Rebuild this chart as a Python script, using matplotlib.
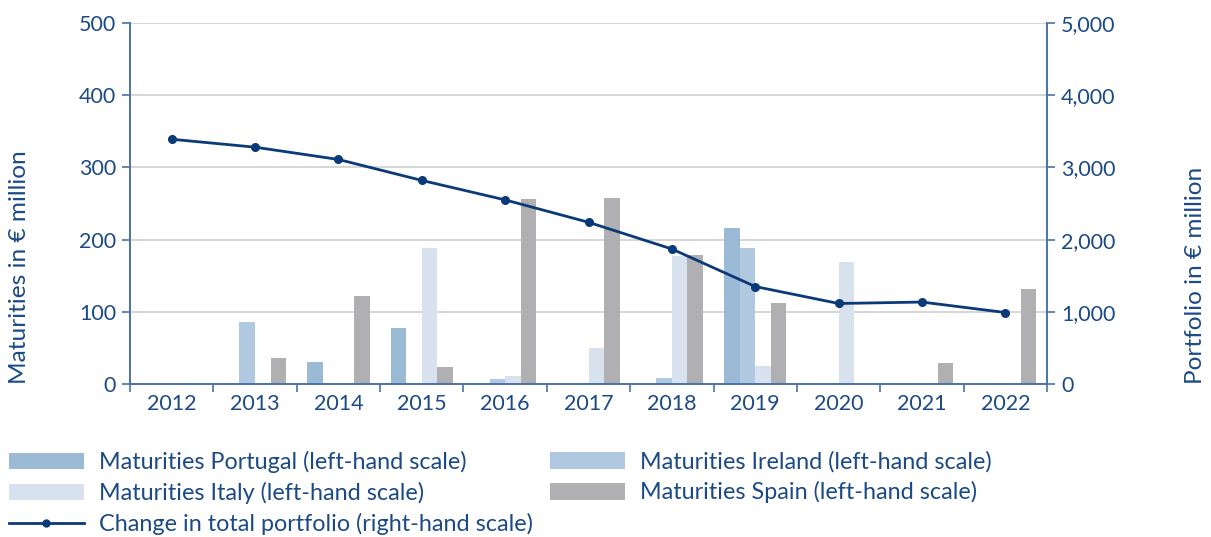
import matplotlib
matplotlib.use("Agg")
import matplotlib.pyplot as plt
import numpy as np
from matplotlib.patches import Patch
from matplotlib.lines import Line2D

years = ["2012", "2013", "2014", "2015", "2016", "2017", "2018", "2019", "2020", "2021", "2022"]
portugal = [0, 0, 30, 77, 0, 0, 0, 216, 0, 0, 0]
ireland = [0, 86, 1.5, 0, 7, 0, 8, 188, 0, 0, 0]
italy = [0, 0, 0, 188, 11, 50, 177, 25, 169, 0, 0]
spain = [0, 36, 122, 23, 256, 258, 179, 112, 0, 29, 131]
portfolio = [3390, 3280, 3110, 2820, 2550, 2240, 1870, 1350, 1115, 1135, 990]

labels = ["Maturities Portugal (left-hand scale)", "Maturities Ireland (left-hand scale)",
          "Maturities Italy (left-hand scale)", "Maturities Spain (left-hand scale)",
          "Change in total portfolio (right-hand scale)"]

c_por = "#9bbad6"
c_ire = "#b0c8e0"
c_ita = "#d7e2ee"
c_spa = "#b0b0b2"
c_line = "#0b3a78"
c_text = "#1c4a86"
c_spine = "#4a72a8"

plt.rcParams['font.family'] = ['Lato', 'DejaVu Sans']
fs_tick = 15.5
fs_leg = 16.8
fs_lab = 17.6

fig = plt.figure(figsize=(12.11, 5.37), dpi=100)
ax = fig.add_axes([130/1211, 1-384/537, (1047-130)/1211, (384-23)/537])
ax2 = ax.twinx()

x = np.arange(len(years))
w = 0.187
for i, (vals, col) in enumerate([(portugal, c_por), (ireland, c_ire), (italy, c_ita), (spain, c_spa)]):
    ax.bar(x + (i - 1.5) * w, vals, width=w, color=col, zorder=2, linewidth=0)

ax2.plot(x, portfolio, color=c_line, lw=2.0, marker='o', markersize=5.5, zorder=5)

ax.set_xlim(-0.5, len(years) - 0.5)
ax.set_ylim(0, 500)
ax2.set_ylim(0, 5000)
ax.set_yticks(range(0, 501, 100))
ax2.set_yticks(range(0, 5001, 1000))
ax2.set_yticklabels([f"{v:,}" for v in range(0, 5001, 1000)])
ax.set_xticks(x)
ax.set_xticklabels(years)
ax.set_xticks(np.arange(-0.5, len(years), 1), minor=True)
ax.tick_params(axis='x', which='major', length=0, pad=7, labelsize=fs_tick, labelcolor=c_text)
ax.tick_params(axis='x', which='minor', length=6, width=1.2, color=c_spine, direction='out')
ax.tick_params(axis='y', length=6, width=1.2, color=c_spine, labelsize=fs_tick, labelcolor=c_text, pad=4)
ax2.tick_params(axis='y', length=6, width=1.2, color=c_spine, labelsize=fs_tick, labelcolor=c_text, pad=4)

ax.grid(axis='y', color='#cfcfcf', lw=1.2, zorder=0)
ax.set_axisbelow(True)

for a in (ax, ax2):
    a.spines['top'].set_visible(False)
    for s in ('left', 'right', 'bottom'):
        a.spines[s].set_color(c_spine)
        a.spines[s].set_linewidth(1.2)

fig.text(20/1211, 1-384/537, "Maturities in € million", rotation=90, fontsize=fs_lab,
         color=c_text, ha='center', va='bottom')
fig.text(1196/1211, 1-384/537, "Portfolio in € million", rotation=90, fontsize=fs_lab,
         color=c_text, ha='center', va='bottom')

h_por = Patch(color=c_por, lw=0)
h_ire = Patch(color=c_ire, lw=0)
h_ita = Patch(color=c_ita, lw=0)
h_spa = Patch(color=c_spa, lw=0)
h_line = Line2D([], [], color=c_line, lw=2.0, marker='o', markersize=5)

common = dict(frameon=False, fontsize=fs_leg, handlelength=3.2, handleheight=0.73,
              handletextpad=0.64, labelspacing=0.38, borderaxespad=0, borderpad=0,
              labelcolor=c_text, loc='upper left')
leg1 = fig.legend([h_por, h_ita, h_line], [labels[0], labels[2], labels[4]],
                  bbox_to_anchor=(9/1211, 1-451/537), **common)
leg2 = fig.legend([h_ire, h_spa], [labels[1], labels[3]],
                  bbox_to_anchor=(550/1211, 1-451/537), **common)

fig.savefig("out.png", dpi=100)
